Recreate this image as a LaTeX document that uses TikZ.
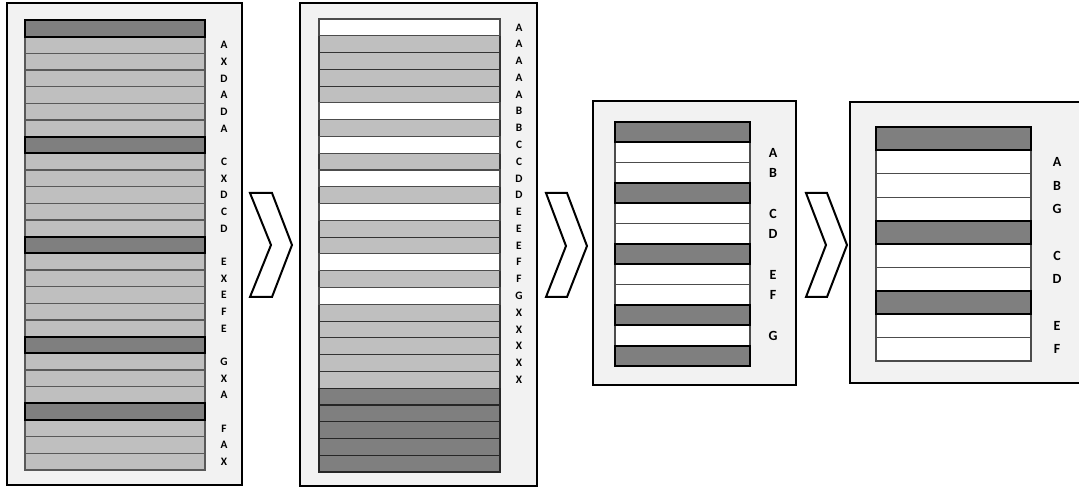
\documentclass[tikz,border=0pt]{standalone}
\usepackage{fontspec}
\setmainfont{Carlito}[BoldFont={Carlito Bold}]
\definecolor{darkbar}{HTML}{7F7F7F}
\definecolor{lightbar}{HTML}{BFBFBF}
\definecolor{panelbg}{HTML}{F2F2F2}
\tikzset{
  panel/.style={draw=black, fill=panelbg, line width=1.4pt},
  darkrow/.style={draw=black, fill=darkbar, line width=1.6pt},
  darkrowthin/.style={draw=black!85, fill=darkbar, line width=0.9pt},
  lightrow/.style={draw=black!65, fill=lightbar, line width=0.8pt},
  whiterow/.style={draw=black!70, fill=white, line width=0.8pt},
  lbl/.style={font=\bfseries\fontsize{8.5}{9}\selectfont, inner sep=0pt, text=black},
  biglbl/.style={font=\bfseries\fontsize{10.5}{11}\selectfont, inner sep=0pt, text=black},
  chev/.style={draw=black, fill=white, line width=1.5pt, line join=miter}
}
\begin{document}
\begin{tikzpicture}[x=0.75pt,y=-0.75pt]
\clip (0,0) rectangle (1079,488);
\fill[white] (0,0) rectangle (1079,488);

% ---------- Panel 1 ----------
\draw[panel] (7,3) rectangle (242,485);
\foreach \i in {0,...,26}
  \draw[lightrow] (25,{20+\i*16.667}) rectangle (205,{20+(\i+1)*16.667});
\foreach \i in {0,7,13,19,23}
  \draw[darkrow] (25,{20+\i*16.667}) rectangle (205,{20+(\i+1)*16.667});
\foreach \i/\l in {1/A,2/X,3/D,4/A,5/D,6/A,8/C,9/X,10/D,11/C,12/D,14/E,15/X,16/E,17/F,18/E,20/G,21/X,22/A,24/F,25/A,26/X}
  \node[lbl] (pa\i) at (224,{20+(\i+0.5)*16.667}) {\l};

% ---------- Panel 2 ----------
\draw[panel] (300,3) rectangle (537,486);
\foreach \i in {0,...,26}
  \draw[lightrow, draw=black!80] (319,{19+\i*16.78}) rectangle (500,{19+(\i+1)*16.78});
\foreach \i in {0,5,7,9,11,14,16}
  \draw[whiterow] (319,{19+\i*16.78}) rectangle (500,{19+(\i+1)*16.78});
\foreach \i in {22,...,26}
  \draw[darkrowthin] (319,{19+\i*16.78}) rectangle (500,{19+(\i+1)*16.78});
\foreach \i/\l in {0/A,1/A,2/A,3/A,4/A,5/B,6/B,7/C,8/C,9/D,10/D,11/E,12/E,13/E,14/F,15/F,16/G,17/X,18/X,19/X,20/X,21/X}
  \node[lbl] (pb\i) at (519,{19+(\i+0.5)*16.78}) {\l};

% ---------- Panel 3 ----------
\draw[panel] (593,101) rectangle (796,385);
\foreach \i in {0,...,11}
  \draw[whiterow] (615,{122+\i*20.33}) rectangle (750,{122+(\i+1)*20.33});
\foreach \i in {0,3,6,9,11}
  \draw[darkrow] (615,{122+\i*20.33}) rectangle (750,{122+(\i+1)*20.33});
\foreach \i/\l in {1/A,2/B,4/C,5/D,7/E,8/F,10/G}
  \node[biglbl] (pc\i) at (773,{122+(\i+0.5)*20.33}) {\l};

% ---------- Panel 4 ----------
\draw[panel] (850,102) rectangle (1095,383);
\foreach \i in {0,...,9}
  \draw[whiterow] (876,{127+\i*23.4}) rectangle (1031,{127+(\i+1)*23.4});
\foreach \i in {0,4,7}
  \draw[darkrow] (876,{127+\i*23.4}) rectangle (1031,{127+(\i+1)*23.4});
\foreach \i/\l in {1/A,2/B,3/G,5/C,6/D,8/E,9/F}
  \node[biglbl] (pd\i) at (1057,{127+(\i+0.5)*23.4}) {\l};

% ---------- Chevrons ----------
\draw[chev] (250,193) -- (272,193) -- (292,245) -- (272,297) -- (250,297) -- (271,245) -- cycle;
\draw[chev] (546,193) -- (567,193) -- (587,246) -- (567,297) -- (546,297) -- (566,246) -- cycle;
\draw[chev] (806,193) -- (827,193) -- (847,245) -- (827,297) -- (806,297) -- (826,245) -- cycle;
\end{tikzpicture}
\end{document}
